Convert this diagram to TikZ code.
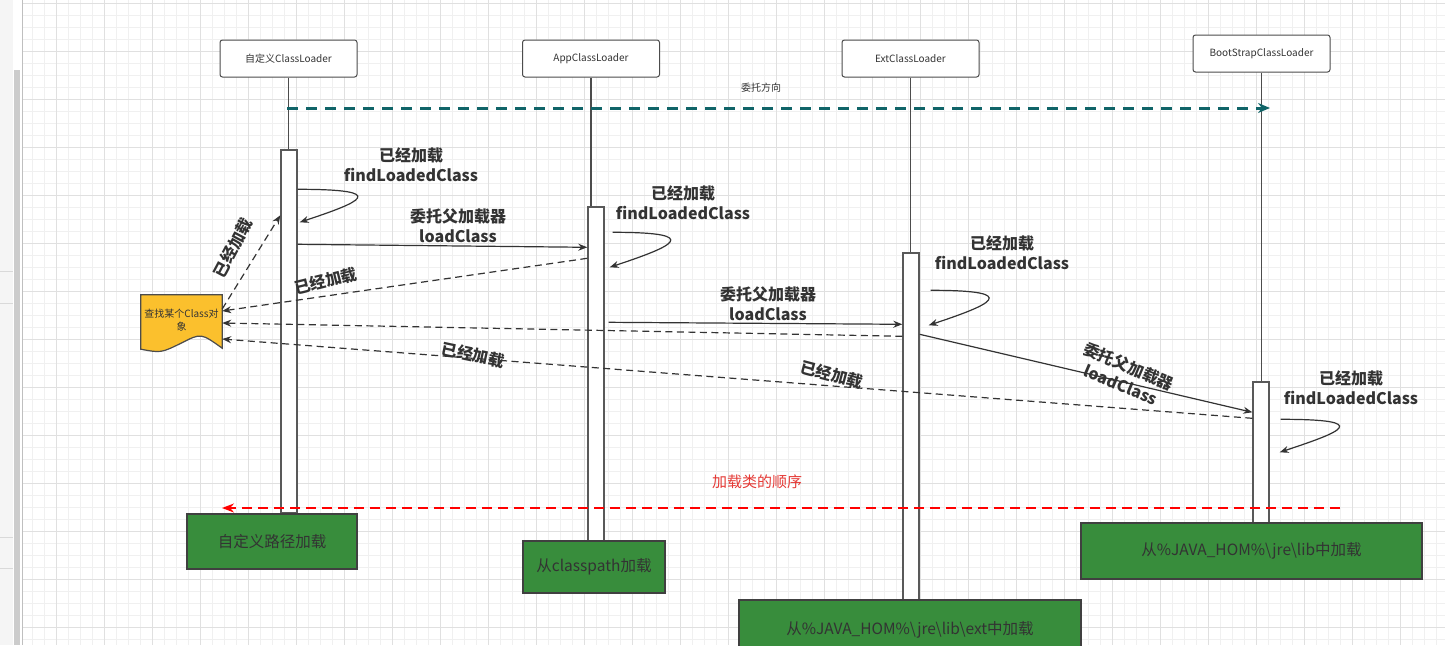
\documentclass[tikz,border=0pt]{standalone}
\usepackage{fontspec}
\setmainfont{Noto Sans CJK SC}
\usetikzlibrary{positioning,arrows.meta}
\definecolor{dirteal}{RGB}{16,100,104}
\definecolor{loadgreen}{RGB}{56,141,60}
\definecolor{docyellow}{RGB}{251,192,45}
\definecolor{ordred}{RGB}{255,0,0}
\definecolor{ordtext}{RGB}{229,57,53}
\definecolor{gridminor}{RGB}{240,240,240}
\definecolor{gridmajor}{RGB}{224,224,224}

\begin{document}
\begin{tikzpicture}[x=1pt,y=-1pt,
  >={Stealth[length=9pt,width=7pt]},
  head/.style={draw=black!70,fill=white,rounded corners=2.5pt,line width=1pt,
    minimum width=137pt,minimum height=37pt,inner sep=0pt,
    font=\fontsize{10}{12}\selectfont,text=black!80},
  act/.style={draw=black!65,fill=white,line width=1.4pt,minimum width=16pt,inner sep=0pt},
  life/.style={draw=black!70,line width=1.2pt},
  loadbox/.style={draw=black!75,fill=loadgreen,line width=1.2pt,inner sep=0pt,
    font=\fontsize{15.5}{18}\selectfont,text=black!80},
  lbl/.style={font=\bfseries\fontsize{16}{20}\selectfont,text=black!80,align=center,inner sep=0pt},
  msg/.style={->,draw=black!80,line width=1.2pt},
  ret/.style={msg,dash pattern=on 7pt off 4.5pt}]
  \useasboundingbox (0,0) rectangle (1445,645);
  \fill[white] (0,0) rectangle (1445,645);
  % grid
  \foreach \i in {2,...,119}
    \draw[gridminor,line width=0.8pt] ({8.7+12*\i},0) -- ({8.7+12*\i},645);
  \foreach \j in {0,...,53}
    \draw[gridminor,line width=0.8pt] (22,{3.7+12*\j}) -- (1445,{3.7+12*\j});
  \foreach \i in {1,...,29}
    \draw[gridmajor,line width=0.8pt] ({8.7+48*\i},0) -- ({8.7+48*\i},645);
  \foreach \j in {0,...,13}
    \draw[gridmajor,line width=0.8pt] (22,{3.7+48*\j}) -- (1445,{3.7+48*\j});
  % side panel
  \fill[black!4] (0,0) rectangle (13,645);
  \fill[black!20] (14,70) rectangle (20,645);
  \draw[black!25,line width=1pt] (22,0) -- (22,645);
  \draw[black!15] (0,271) -- (13,271) (0,303) -- (13,303) (0,537) -- (13,537) (0,568) -- (13,568);

  % heads
  \node[head] (cl)   at (288.5,58.5) {自定义ClassLoader};
  \node[head] (app)  at (591,58.5)   {AppClassLoader};
  \node[head] (ext)  at (910.5,58.5) {ExtClassLoader};
  \node[head] (boot) at (1261.5,53.5) {BootStrapClassLoader};

  % lifelines
  \node[act,minimum height=363pt] (a1) at (289,331.5) {};
  \node[act,minimum height=334pt] (a2) at (596,374)   {};
  \node[act,minimum height=347pt] (a3) at (911,426.5) {};
  \node[act,minimum height=141pt] (a4) at (1261,452.5) {};
  \draw[life] (cl.south)   -- (cl.south |- a1.north);
  \draw[life] (app.south)  -- (app.south |- a2.north);
  \draw[life] (ext.south)  -- (ext.south |- a3.north);
  \draw[life] (boot.south) -- (boot.south |- a4.north);

  % where each loader loads from
  \node[loadbox,minimum width=170pt,minimum height=55pt] (g1) at (272,541.5) {自定义路径加载};
  \node[loadbox,minimum width=142pt,minimum height=52pt] (g2) at (594,567)   {从classpath加载};
  \node[loadbox,minimum width=342pt,minimum height=60pt] (g3) at (910,630)   {从\%JAVA\_HOM\%\textbackslash jre\textbackslash lib\textbackslash ext中加载};
  \node[loadbox,minimum width=341pt,minimum height=56pt] (g4) at (1251.5,551) {从\%JAVA\_HOM\%\textbackslash jre\textbackslash lib中加载};

  % the document
  \node[minimum width=81pt,minimum height=48pt,inner sep=0pt] (doc) at (181.5,319) {};
  \draw[draw=black!70,fill=docyellow,line width=1.2pt]
    (doc.north west) -- (doc.north east) -- ([yshift=-5pt]doc.east |- doc.south)
    .. controls (201,333) .. (181.5,343) .. controls (161,353) .. ([yshift=-6pt]doc.south west) -- cycle;
  \node[align=center,font=\fontsize{10}{13}\selectfont,text=black!80] at (181.5,320) {查找某个Class对\\象};

  % direction and order
  \coordinate (dirS) at (287,108);
  \coordinate (dirE) at (1270,108);
  \draw[->,>={Stealth[length=12pt,width=10pt]},dirteal,line width=3pt,dash pattern=on 11pt off 8pt] (dirS) -- (dirE);
  \node[font=\fontsize{10}{12}\selectfont,text=black!80] (dir) at (761,88) {委托方向};
  \coordinate (ordS) at (1340,508);
  \coordinate (ordE) at (222,508);
  \draw[->,>={Stealth[length=12pt,width=9pt]},ordred,line width=2.4pt,dash pattern=on 10pt off 6pt] (ordS) -- (ordE);
  \node[font=\fontsize{15}{17}\selectfont,text=ordtext] (ord) at (757,482) {加载类的顺序};

  % findLoadedClass
  \draw[msg] ([yshift=-40pt]a1.north east) .. controls +(95pt,0pt) and +(60pt,20pt) .. ([xshift=2pt,yshift=-73pt]a1.north east);
  \draw[msg] ([xshift=8pt,yshift=-26pt]a2.north east) .. controls +(95pt,0pt) and +(60pt,20pt) .. ([xshift=5pt,yshift=-61pt]a2.north east);
  \draw[msg] ([xshift=11pt,yshift=-38pt]a3.north east) .. controls +(95pt,0pt) and +(60pt,20pt) .. ([xshift=9pt,yshift=-73pt]a3.north east);
  \draw[msg] ([xshift=11pt,yshift=-38pt]a4.north east) .. controls +(95pt,0pt) and +(60pt,20pt) .. ([xshift=10pt,yshift=-71pt]a4.north east);
  \node[lbl] (f1) at (411,165)  {已经加载\\findLoadedClass};
  \node[lbl] (f2) at (683,203)  {已经加载\\findLoadedClass};
  \node[lbl] (f3) at (1002,253) {已经加载\\findLoadedClass};
  \node[lbl] (f4) at (1351,388) {已经加载\\findLoadedClass};

  % delegation
  \draw[msg] ([yshift=-95pt]a1.north east) -- ([yshift=-41pt]a2.north west);
  \draw[msg] ([xshift=4pt,yshift=-116pt]a2.north east) -- ([yshift=-72pt]a3.north west);
  \draw[msg] ([yshift=-82pt]a3.north east) -- ([yshift=-31pt]a4.north west);
  \node[lbl] (p1) at (458,226) {委托父加载器\\loadClass};
  \node[lbl] (p2) at (768,304) {委托父加载器\\loadClass};
  \node[lbl,rotate=-23] (p3) at (1125,375) {委托父加载器\\loadClass};

  % found
  \draw[ret] ([yshift=-52pt]a2.north west) -- ([yshift=8pt]doc.east);
  \draw[ret] ([yshift=10pt]doc.east) -- ([yshift=-66pt]a1.north west);
  \draw[ret] ([yshift=-84pt]a3.north west) -- ([yshift=-4pt]doc.east);
  \draw[ret] ([yshift=-37pt]a4.north west) -- ([yshift=-20pt]doc.east);
  \node[lbl,rotate=14] (r1) at (326,281) {已经加载};
  \node[lbl,rotate=62] (r2) at (233,248) {已经加载};
  \node[lbl,rotate=-12] (r3) at (473,355) {已经加载};
  \node[lbl,rotate=-15] (r4) at (832,375) {已经加载};
\end{tikzpicture}
\end{document}
